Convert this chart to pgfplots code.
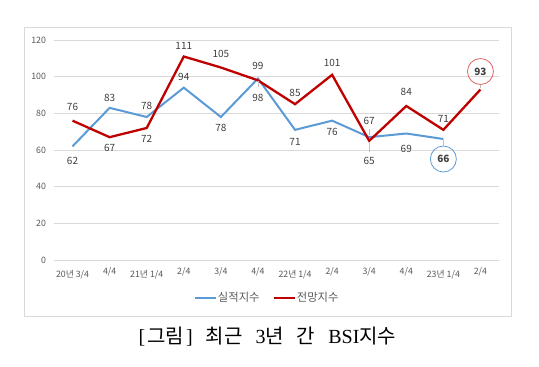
\documentclass[border=0pt]{standalone}
\usepackage{fontspec}
\setmainfont{Noto Sans CJK KR}
\newfontfamily\serifl{Liberation Serif}
\newfontfamily\cjk{Noto Sans CJK KR}
\usepackage{pgfplots}
\pgfplotsset{compat=1.18}
\usepackage{pgfplotstable}
\definecolor{bl}{HTML}{5B9BD5}
\definecolor{rd}{HTML}{C00000}
\definecolor{rc}{HTML}{E06666}
\definecolor{tk}{HTML}{595959}
\definecolor{lb}{HTML}{404040}
\definecolor{gr}{HTML}{D9D9D9}
\definecolor{ld}{HTML}{BFBFBF}

\pgfplotstableread{
x y off a b
0 62 -15 0 0
1 83 10 0 0
2 78 11 0 0
3 94 11 0 0
4 78 -11 0 0
5 99 13 0 0
6 71 -12 0 0
7 76 -11 0 0
8 67 16 -8 -6
9 69 -15 0 0
10 66 -20 0 0
}\bluedata

\pgfplotstableread{
x y off a b
0 76 14 0 0
1 67 -11 0 0
2 72 -11 0 0
3 111 10.5 0 0
4 105 14 0 0
5 98 -18 17 -6
6 85 11 0 0
7 101 11.5 0 0
8 65 -20 18 -9
9 84 14 0 0
10 71 10.5 0 0
11 93 18 0 0
}\reddata

\begin{document}
\begin{tikzpicture}
\useasboundingbox (0,0) rectangle (539pt,-367pt);
\draw[gr, line width=0.8pt, fill=white] (24pt,-27pt) rectangle (511pt,-316pt);
\begin{axis}[
  at={(54pt,-260pt)}, anchor=south west,
  scale only axis, width=445pt, height=220pt,
  xmin=-0.5, xmax=11.5, ymin=0, ymax=120,
  ytick={0,20,...,120},
  xtick={0,...,11},
  xticklabels={20년 3/4,\raisebox{3pt}{4/4},21년 1/4,\raisebox{3pt}{2/4},\raisebox{3pt}{3/4},\raisebox{3pt}{4/4},22년 1/4,\raisebox{3pt}{2/4},\raisebox{3pt}{3/4},\raisebox{3pt}{4/4},23년 1/4,\raisebox{3pt}{2/4}},
  ymajorgrids, grid style={gr, line width=0.8pt},
  axis line style={draw=none},
  major tick length=0pt,
  tick label style={font=\fontsize{8.8}{10}\selectfont, text=tk},
  /pgf/number format/assume math mode=true,
  yticklabel style={anchor=east, xshift=-4.5pt},
  xticklabel style={anchor=base, yshift=-17.5pt},
  clip=false,
  legend style={at={(0.478,-0.173)}, anchor=center, draw=none, fill=none,
    legend columns=2, font=\fontsize{11.3}{13}\selectfont, text=tk,
    /tikz/every even column/.append style={column sep=12pt},
    inner sep=0pt, nodes={inner sep=1pt}},
  legend image code/.code={\draw[#1] (0pt,0pt) -- (21pt,0pt);},
  every node near coord/.append style={font=\fontsize{10}{12}\selectfont, text=lb},
]
\addplot[bl, line width=2pt, mark=none] table[x=x,y=y] \bluedata;
\addlegendentry{실적지수}
\addplot[rd, line width=2.3pt, mark=none] table[x=x,y=y] \reddata;
\addlegendentry{전망지수}

% labels
\addplot[draw=none, mark=none, forget plot, skip coords between index={10}{11},
  nodes near coords, point meta=\thisrow{y},
  visualization depends on={\thisrow{off}\as\off},
  visualization depends on={\thisrow{a}\as\la},
  visualization depends on={\thisrow{b}\as\lb},
  nodes near coords style={anchor=center, yshift=\off pt,
    append after command={([yshift=\la pt]\tikzlastnode.center) edge[draw=ld, line width=0.6pt] +(0pt,\lb pt)}}] table[x=x,y=y] \bluedata;
\addplot[draw=none, mark=none, forget plot, skip coords between index={11}{12},
  nodes near coords, point meta=\thisrow{y},
  visualization depends on={\thisrow{off}\as\off},
  visualization depends on={\thisrow{a}\as\la},
  visualization depends on={\thisrow{b}\as\lb},
  nodes near coords style={anchor=center, yshift=\off pt,
    append after command={([yshift=\la pt]\tikzlastnode.center) edge[draw=ld, line width=0.6pt] +(0pt,\lb pt)}}] table[x=x,y=y] \reddata;

% circled labels
\addplot[draw=none, mark=none, forget plot, nodes near coords, point meta=y,
  nodes near coords style={circle, draw=bl, line width=0.8pt, minimum size=26pt, inner sep=0pt,
    anchor=center, yshift=-20pt, font=\bfseries\fontsize{10}{12}\selectfont,
    append after command={(\tikzlastnode.north) edge[draw=ld, line width=0.6pt] +(0pt,6pt)}}] coordinates {(10,66)};
\addplot[draw=none, mark=none, forget plot, nodes near coords, point meta=y,
  nodes near coords style={circle, draw=rc, line width=0.8pt, minimum size=26pt, inner sep=0pt,
    anchor=center, yshift=18pt, font=\bfseries\fontsize{10}{12}\selectfont,
    append after command={(\tikzlastnode.south) edge[draw=ld, line width=0.6pt] +(0pt,-3.5pt)}}] coordinates {(11,93)};
\end{axis}
\node[text=black, font=\fontsize{20}{23}\selectfont, inner sep=0pt] at (267.5pt,-336.5pt)
  {{\serifl[}\hspace{2pt}\cjk 그림\hspace{2pt}{\serifl]}\hspace{13pt}\cjk 최근\hspace{13pt}{\serifl 3}\cjk 년\hspace{13pt}간\hspace{13pt}{\serifl BSI}\cjk 지수};
\end{tikzpicture}
\end{document}
